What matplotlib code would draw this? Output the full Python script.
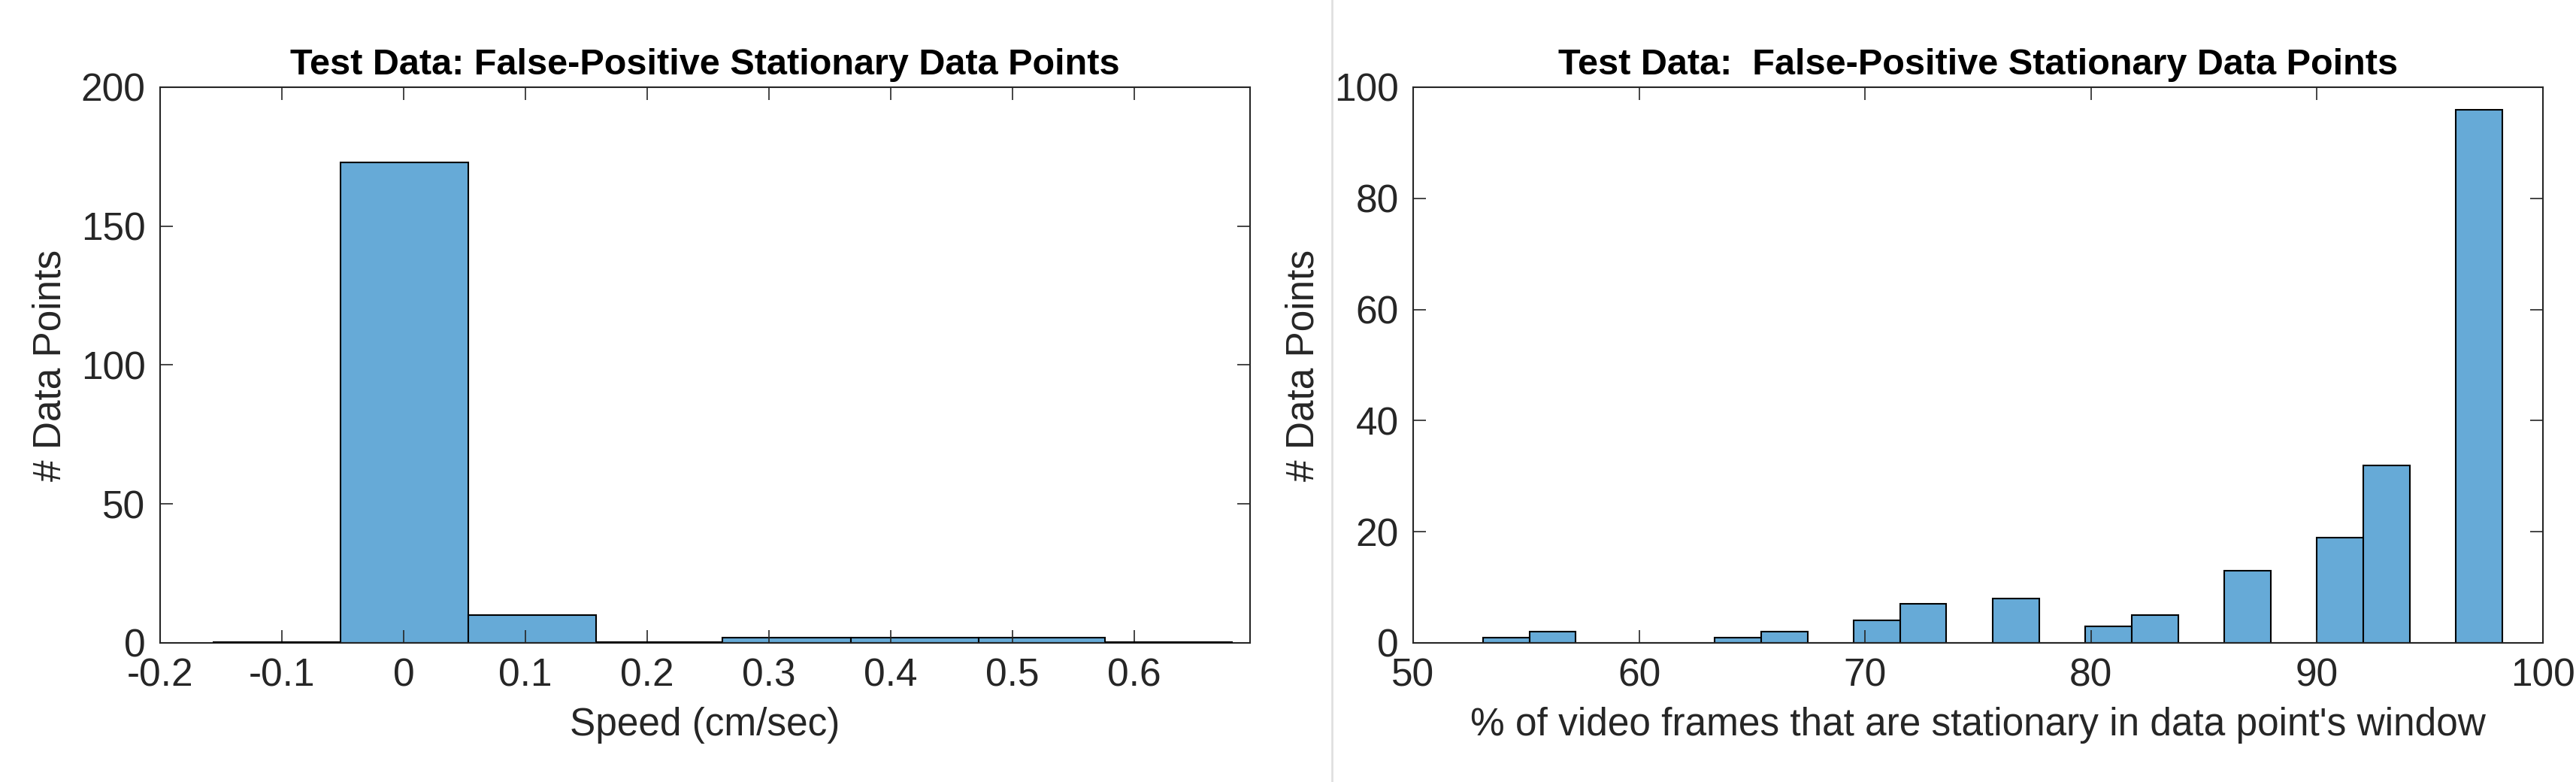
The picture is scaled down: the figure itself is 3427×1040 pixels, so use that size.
import matplotlib.pyplot as plt
import numpy as np

plt.rcParams['font.family'] = ['Liberation Sans', 'DejaVu Sans']

# left: speed histogram
speed_edges = [-0.157, -0.052, 0.053, 0.158, 0.262, 0.367, 0.472, 0.576, 0.681]
speed_counts = [0, 173, 10, 0, 2, 2, 2, 0]

# right: % stationary frames histogram
pct_start = 53.1
pct_width = 2.05
pct_counts = [1, 2, 0, 0, 0, 1, 2, 0, 4, 7, 0, 8, 0, 3, 5, 0, 13, 0, 19, 32, 0, 96]
pct_edges = [pct_start + i * pct_width for i in range(len(pct_counts) + 1)]

face = '#66AAD7'
W, H = 3427, 1040
fig = plt.figure(figsize=(W / 100, H / 100), dpi=100)

ax1 = fig.add_axes([213 / W, 1 - 855 / H, (1663 - 213) / W, (855 - 116) / H])
ax2 = fig.add_axes([1880 / W, 1 - 855 / H, (3383 - 1880) / W, (855 - 116) / H])


def draw(ax, edges, counts, zero_lines):
    edges = np.array(edges)
    ax.bar(edges[:-1], counts, width=np.diff(edges), align='edge',
           color=face, edgecolor='black', linewidth=1.5)
    if zero_lines:
        for e0, e1, c in zip(edges[:-1], edges[1:], counts):
            if c == 0:
                ax.plot([e0, e1], [0, 0], color='black', lw=3, solid_capstyle='butt', zorder=3)
    ax.tick_params(direction='in', length=12, width=1.2, labelsize=37, colors='#262626',
                   top=True, right=True, pad=14)
    for s in ax.spines.values():
        s.set_color('#262626')
        s.set_linewidth(1.5)


draw(ax1, speed_edges, speed_counts, True)
ax1.set_xlim(-0.2, 0.695)
ax1.set_ylim(0, 200)
ax1.set_xticks([-0.2, -0.1, 0, 0.1, 0.2, 0.3, 0.4, 0.5, 0.6])
ax1.set_xticklabels(['-0.2', '-0.1', '0', '0.1', '0.2', '0.3', '0.4', '0.5', '0.6'])
ax1.set_yticks([0, 50, 100, 150, 200])
ax1.set_xlabel('Speed (cm/sec)', fontsize=37, color='#262626', labelpad=12)
ax1.set_ylabel('# Data Points', fontsize=37, color='#262626', labelpad=12)
ax1.set_title('Test Data: False-Positive Stationary Data Points', fontsize=35,
              fontweight='bold', pad=12)

draw(ax2, pct_edges, pct_counts, False)
ax2.set_xlim(50, 100)
ax2.set_ylim(0, 100)
ax2.set_xticks([50, 60, 70, 80, 90, 100])
ax2.set_yticks([0, 20, 40, 60, 80, 100])
ax2.set_xlabel("% of video frames that are stationary in data point's window",
               fontsize=37, color='#262626', labelpad=12)
ax2.set_ylabel('# Data Points', fontsize=37, color='#262626', labelpad=12)
ax2.set_title('Test Data:  False-Positive Stationary Data Points', fontsize=35,
              fontweight='bold', pad=12)

fig.add_artist(plt.Line2D([1772 / W, 1772 / W], [0, 1], color='#e0e0e0', lw=2))

fig.savefig('out.png', dpi=100)
